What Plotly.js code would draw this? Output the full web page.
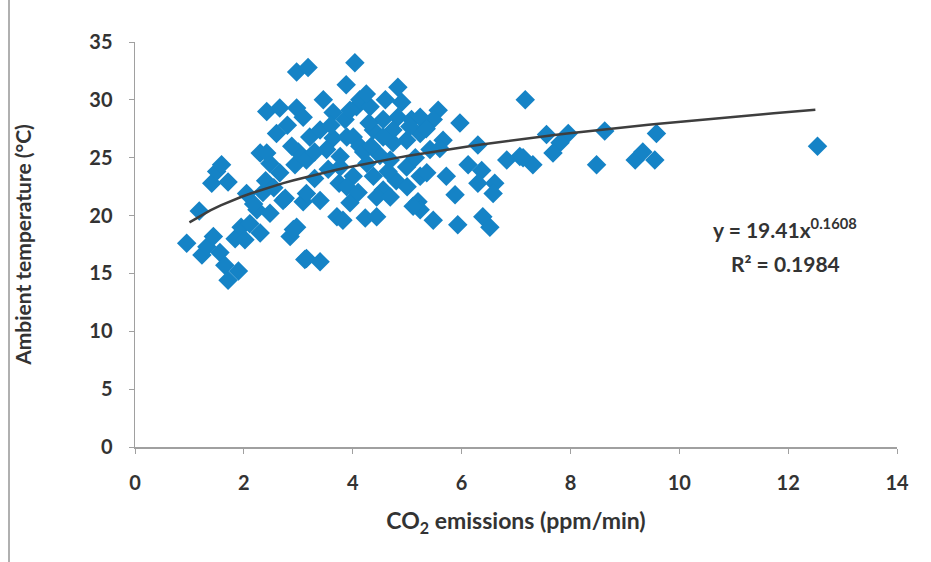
<!DOCTYPE html>
<html>
<head>
<meta charset="utf-8">
<script src="https://cdn.plot.ly/plotly-3.0.1.min.js"></script>
<style>
html,body{margin:0;padding:0;background:#fff;}
#chart{width:931px;height:562px;position:relative;}
#frame{position:absolute;left:8px;top:0;width:2px;height:562px;background:#b0b0b0;z-index:10;}
</style>
</head>
<body>
<div id="frame"></div>
<div id="chart"></div>
<script>
// CO2 emissions (ppm/min)
const co2 = [
 0.95,1.18,1.23,1.32,1.44,1.41,1.50,1.59,1.71,1.56,1.65,1.71,1.90,1.84,1.95,2.05,2.24,2.11,2.02,2.48,2.30,2.18,2.35,2.76,2.85,2.97,3.09,3.12,2.30,2.48,2.66,2.94,3.00,2.40,2.55,
 2.97,3.18,4.04,2.42,2.66,2.97,3.09,3.46,3.64,3.88,3.86,4.07,4.13,4.32,3.95,4.83,7.17,
 2.60,2.42,2.88,3.21,3.40,3.64,3.15,3.52,3.77,3.89,4.01,3.15,3.40,3.71,3.95,2.91,3.15,3.40,2.72,2.80,3.30,3.55,3.30,3.75,3.60,
 4.01,4.56,4.83,5.08,5.57,5.48,5.97,5.66,5.24,4.99,4.38,4.13,6.30,6.83,7.07,7.31,6.12,6.37,6.30,6.61,6.58,5.72,5.88,5.20,5.24,5.48,5.93,6.39,6.52,4.23,4.44,3.82,4.38,4.56,4.44,5.24,5.36,4.99,4.69,4.26,3.77,3.89,5.24,5.05,4.74,5.42,4.74,4.56,4.69,5.11,4.20,4.50,4.80,5.00,4.10,4.30,4.60,5.35,5.60,4.90,4.25,4.34,4.65,5.15,
 7.56,7.96,7.81,7.68,7.13,8.63,8.48,9.19,9.33,9.55,9.58,12.54
];
// Ambient temperature (°C)
const temp = [
 17.6,20.4,16.6,17.3,18.2,22.8,23.8,24.4,22.9,16.8,15.7,14.4,15.2,18.0,19.0,21.9,20.5,19.3,17.9,20.2,18.5,21.0,22.0,21.5,18.2,19.0,21.2,16.2,25.4,24.5,23.7,24.4,25.5,23.0,22.4,
 32.4,32.8,33.2,29.0,29.3,29.3,28.5,30.0,28.9,31.3,28.3,29.4,30.0,29.4,29.1,31.1,30.0,
 27.1,25.4,26.0,26.8,27.4,26.7,24.8,25.7,25.1,26.8,23.4,21.9,21.3,19.9,21.1,18.8,16.3,16.0,21.3,27.8,25.5,24.0,23.2,22.8,27.8,
 26.8,28.3,28.5,28.3,29.1,28.3,28.0,26.5,27.1,26.5,27.4,26.0,26.1,24.8,25.1,24.4,24.4,23.9,22.8,22.8,21.9,23.4,21.8,21.2,20.5,19.6,19.2,19.9,19.0,19.8,19.9,19.6,23.4,22.2,21.6,23.4,23.7,24.2,24.8,24.5,24.2,22.5,28.5,27.7,26.3,25.7,27.4,26.8,21.6,20.8,25.5,25.2,23.0,22.5,22.0,28.0,30.0,27.5,25.8,29.8,30.5,26.0,23.8,25.0,
 27.0,27.1,26.3,25.4,25.0,27.3,24.4,24.8,25.5,24.8,27.1,26.0
];
// Power trendline shown on the chart: y = 19.41 x^0.1608
const trendCoef = 19.41, trendExp = 0.1608;
const trendRange = [1.0, 12.5];
const trendX = [], trendY = [];
for (let i = 0; i <= 60; i++) {
  const x = trendRange[0] + (trendRange[1] - trendRange[0]) * i / 60;
  trendX.push(x); trendY.push(trendCoef * Math.pow(x, trendExp));
}
const eqText = 'y = 19.41x<sup>0.1608</sup>';
const r2Text = 'R² = 0.1984';
const xTitle = 'CO<sub>2</sub> emissions (ppm/min)';
const yTitle = 'Ambient temperature (°C)';

const fontFam = 'Lato, "Open Sans", sans-serif';
const textCol = '#333333';

Plotly.newPlot('chart', [
  {x: co2, y: temp, type: 'scatter', mode: 'markers',
   marker: {symbol: 'diamond', size: 15, color: '#1583c6', line: {width: 0}},
   hoverinfo: 'x+y'},
  {x: trendX, y: trendY, type: 'scatter', mode: 'lines',
   line: {color: '#3e3e3e', width: 2.5}, hoverinfo: 'skip'}
], {
  width: 931, height: 562,
  margin: {l: 135, r: 34, t: 42, b: 115},
  paper_bgcolor: '#ffffff', plot_bgcolor: '#ffffff',
  showlegend: false,
  font: {family: fontFam, color: textCol},
  xaxis: {
    range: [0, 14], dtick: 2, tick0: 0,
    showgrid: false, zeroline: false,
    showline: true, linecolor: '#a0a0a0', linewidth: 1.5,
    ticks: 'outside', ticklen: 5, tickcolor: '#a0a0a0',
    ticklabelstandoff: 12,
    tickfont: {size: 20, color: textCol, family: fontFam, weight: 'bold'},
    title: {text: xTitle, standoff: 20, font: {size: 23, color: textCol, family: fontFam, weight: 'bold'}}
  },
  yaxis: {
    range: [0, 35], dtick: 5, tick0: 0,
    showgrid: false, zeroline: false,
    showline: true, linecolor: '#a0a0a0', linewidth: 1.5,
    ticks: 'outside', ticklen: 5, tickcolor: '#a0a0a0',
    ticklabelstandoff: 12,
    tickfont: {size: 20, color: textCol, family: fontFam, weight: 'bold'},
    title: {text: yTitle, standoff: 52, font: {size: 21, color: textCol, family: fontFam, weight: 'bold'}}
  },
  annotations: [
    {x: 11.95, y: 18.9, xref: 'x', yref: 'y', text: eqText, showarrow: false,
     font: {size: 21, color: textCol, family: fontFam, weight: 'bold'}},
    {x: 11.95, y: 15.9, xref: 'x', yref: 'y', text: r2Text, showarrow: false,
     font: {size: 21, color: textCol, family: fontFam, weight: 'bold'}}
  ]
}, {displayModeBar: false, staticPlot: true});
</script>
</body>
</html>
